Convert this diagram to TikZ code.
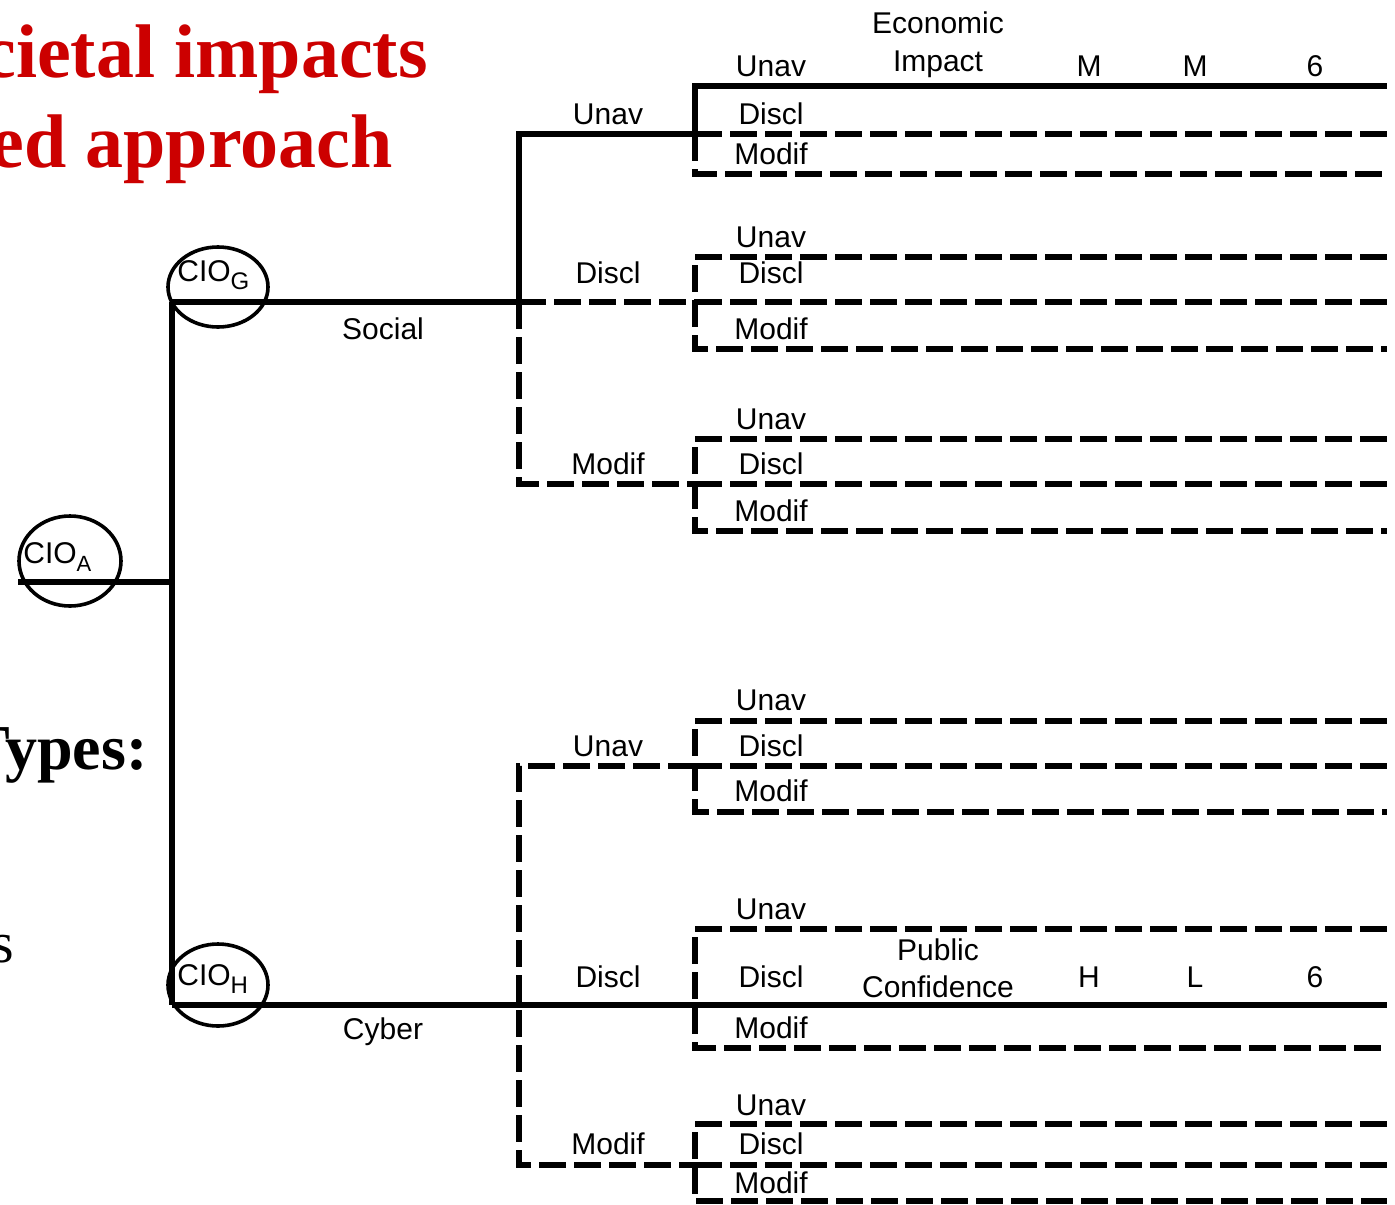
\documentclass[tikz,border=0pt]{standalone}
\usepackage{fontspec}
\setmainfont{Liberation Serif}
\setsansfont{Liberation Sans}
\usetikzlibrary{shapes.geometric}
\definecolor{titlered}{RGB}{204,0,0}
\begin{document}
\begin{tikzpicture}[x=0.5pt,y=-0.5pt,
  ln/.style={line width=2.6pt},
  dl/.style={line width=2.6pt, dash pattern=on 13.5pt off 4pt},
  lab/.style={font=\sffamily\fontsize{15}{15}\selectfont, inner sep=0pt, anchor=base},
  cio/.style={draw, ellipse, line width=1.8pt, inner sep=0pt},
  ttl/.style={font=\fontsize{38}{38}\selectfont\bfseries, text=titlered, inner sep=0pt, anchor=base east},
  sub/.style={font=\sffamily\fontsize{15}{15}\selectfont, inner sep=0pt, anchor=base west}
]
\clip (0,0) rectangle (1395,1204);
\fill[white] (0,0) rectangle (1395,1204);

% title texts
\node[ttl] (t1) at (428,78) {cietal impacts};
\node[ttl] (t2) at (393,167) {ed approach};
\node[font=\fontsize{32}{32}\selectfont\bfseries, inner sep=0pt, anchor=base east] (t3) at (148,769) {Types:};
\node[font=\fontsize{29}{29}\selectfont, inner sep=0pt, anchor=base east] (t4) at (14,962) {s};

% CIO ellipses
\node[cio, minimum width=51pt, minimum height=45pt] (A) at (70,561) {};
\node[cio, minimum width=50pt, minimum height=40pt] (G) at (218,287) {};
\node[cio, minimum width=50pt, minimum height=41pt] (H) at (218,985) {};
\node[sub] (tA) at (23,563) {CIO\raisebox{-4pt}{\fontsize{11}{11}\selectfont A}};
\node[sub] (tG) at (177,281) {CIO\raisebox{-4pt}{\fontsize{12}{12}\selectfont G}};
\node[sub] (tH) at (177,985) {CIO\raisebox{-4pt}{\fontsize{12}{12}\selectfont H}};

% coordinates
\coordinate (a0) at (18,582);
\coordinate (jA) at (172,582);
\coordinate (jG) at (172,302);
\coordinate (jH) at (172,1005);
\coordinate (su) at (519,134);
\coordinate (s2) at (519,302);
\coordinate (sm) at (519,484);
\coordinate (cu) at (519,766);
\coordinate (c2) at (519,1005);
\coordinate (cm) at (519,1165);

% groups: top, mid, bottom
\coordinate (g1t) at (695,86);   \coordinate (g1m) at (695,134);  \coordinate (g1b) at (695,174);
\coordinate (g2t) at (695,257);  \coordinate (g2m) at (695,302);  \coordinate (g2b) at (695,349);
\coordinate (g3t) at (695,439);  \coordinate (g3m) at (695,484);  \coordinate (g3b) at (695,531);
\coordinate (g4t) at (695,721);  \coordinate (g4m) at (695,766);  \coordinate (g4b) at (695,812);
\coordinate (g5t) at (695,929);  \coordinate (g5m) at (695,1005); \coordinate (g5b) at (695,1048);
\coordinate (g6t) at (695,1124); \coordinate (g6m) at (695,1165); \coordinate (g6b) at (695,1201);
\foreach \g/\t/\m/\b in {1/86/134/174,2/257/302/349,3/439/484/531,4/721/766/812,5/929/1005/1048,6/1124/1165/1201}{
  \coordinate (e\g t) at (1387,\t);
  \coordinate (e\g m) at (1387,\m);
  \coordinate (e\g b) at (1387,\b);
}

% trunk
\draw[ln] (a0) -- (jA);
\draw[ln] (jG) -- (jH);

% social solid path
\draw[ln] (jG) -- (s2) -- (su) -- (g1m) -- (g1t) -- (e1t);
% cyber solid path
\draw[ln] (jH) -- (c2) -- (g5m) -- (e5m);

% level-2 dashed
\draw[dl] (s2) -- (sm) -- (g3m);
\draw[dl] (s2) -- (g2m);
\draw[dl] (g4m) -- (cu) -- (cm) -- (g6m);

% group 1
\draw[dl] (g1m) -- (g1b) -- (e1b);
\draw[dl] (g1m) -- (e1m);
% groups 2,3,4,6
\foreach \g in {2,3,4,6}{
  \draw[dl] (e\g t) -- (g\g t) -- (g\g b) -- (e\g b);
  \draw[dl] (g\g m) -- (e\g m);
}
% group 5
\draw[dl] (e5t) -- (g5t) -- (g5b) -- (e5b);

% labels
\node[lab] (soc) at (383,339) {Social};
\node[lab] (cyb) at (383,1039) {Cyber};
\node[lab] (l2a) at (608,125) {Unav};
\node[lab] (l2b) at (608,283) {Discl};
\node[lab] (l2c) at (608,474) {Modif};
\node[lab] (l2d) at (608,756) {Unav};
\node[lab] (l2e) at (608,987) {Discl};
\node[lab] (l2f) at (608,1154) {Modif};

\foreach \g/\u/\d/\mo in {1/76/125/164,2/247/283/339,3/429/474/521,4/710/756/801,5/919/987/1038,6/1115/1154/1193}{
  \node[lab] (u\g) at (771,\u) {Unav};
  \node[lab] (d\g) at (771,\d) {Discl};
  \node[lab] (m\g) at (771,\mo) {Modif};
}

\node[lab] (eco) at (938,34) {Economic};
\node[lab] (imp) at (938,72) {Impact};
\node[lab] (r1a) at (1089,76) {M};
\node[lab] (r1b) at (1195,76) {M};
\node[lab] (r1c) at (1315,76) {6};
\node[lab] (pub) at (938,960) {Public};
\node[lab] (con) at (938,997) {Confidence};
\node[lab] (r5a) at (1089,987) {H};
\node[lab] (r5b) at (1195,987) {L};
\node[lab] (r5c) at (1315,987) {6};
\end{tikzpicture}
\end{document}
